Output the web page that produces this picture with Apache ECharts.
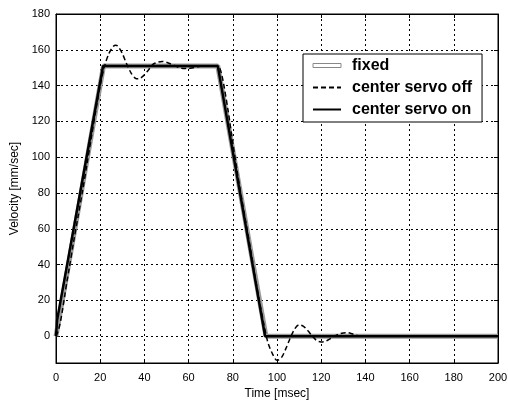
<!DOCTYPE html>
<html>
<head>
<meta charset="utf-8">
<script src="https://cdn.jsdelivr.net/npm/echarts@6/dist/echarts.min.js"></script>
<style>
  html, body { margin: 0; padding: 0; background: #fff; }
  #chart { width: 508px; height: 400px; }
</style>
</head>
<body>
<div id="chart"></div>
<script>
// Velocity profiles (time in msec, velocity in mm/sec)
const fixedT = [0, 21.5, 73.2, 95, 200];
const fixedV = [0, 151, 151, 0, 0];

const servoOnT = [0, 0.5, 21.3, 73.2, 94.6, 200];
const servoOnV = [0, 9, 151, 151, 0, 0];

const servoOffT = [0, 1, 2, 3, 4, 5, 6, 8, 10, 12, 14, 16, 18, 20, 22, 24, 26, 27, 28, 30, 32, 34, 36, 37, 38, 40, 42, 44, 46, 48, 50, 52, 54, 56, 58, 60, 62, 64, 66, 70, 73, 74, 75, 76, 78, 80, 82, 84, 86, 88, 90, 92, 94, 95, 96, 98, 100, 102, 104, 106, 108, 110, 112, 114, 116, 118, 120, 122, 124, 126, 128, 130, 132, 134, 136, 138, 200];
const servoOffV = [0, 3, 8, 15, 23, 31, 38, 53, 67, 81, 96, 111, 126, 140, 151, 158, 162, 162.5, 162, 158, 152, 147, 144, 143.8, 144, 146, 149, 152, 153, 153.5, 153, 152, 151, 150, 149.5, 149.5, 150, 150.5, 151, 151, 151, 150, 146, 140, 125, 108, 92, 77, 63, 49, 34, 20, 7, 1, -4, -10, -13.5, -12, -7, -1, 4, 6.3, 5.5, 3, 0, -2.5, -3.2, -2.8, -1.5, 0, 1.2, 1.8, 1.9, 1.3, 0.5, 0, 0];

const xTicks = [0, 20, 40, 60, 80, 100, 120, 140, 160, 180, 200];
const yTicks = [0, 20, 40, 60, 80, 100, 120, 140, 160, 180];

const seriesNames = ['fixed', 'center servo off', 'center servo on'];

const pairs = (t, v) => t.map((x, i) => [x, v[i]]);

const chart = echarts.init(document.getElementById('chart'), null, { renderer: 'canvas' });

const fontFamily = 'Liberation Sans, Arial, sans-serif';
const labelFont = { fontFamily: fontFamily, fontSize: 11, color: '#000' };
const gridLine = { show: true, lineStyle: { color: '#000', type: [2, 3], width: 1 } };
const frameLine = { show: true, onZero: false, lineStyle: { color: '#000', width: 1 } };
const innerTick = { show: true, inside: true, length: 4, lineStyle: { color: '#000' } };
const noMarker = { opacity: 0 };

chart.setOption({
  backgroundColor: '#fff',
  animation: false,
  grid: {
    left: 56, right: 10, top: 14, bottom: 37,
    outerBoundsMode: 'none',
    show: true, borderColor: '#000', borderWidth: 1
  },
  legend: {
    left: 303, top: 54,
    orient: 'vertical',
    backgroundColor: '#fff',
    borderColor: '#000', borderWidth: 1, borderRadius: 0,
    padding: [2, 10, 3, 9],
    itemGap: 3,
    itemWidth: 28, itemHeight: 14,
    textStyle: { fontFamily: fontFamily, fontWeight: 'bold', fontSize: 16, lineHeight: 19, color: '#000', padding: [0, 0, 0, 6] },
    data: [
      { name: seriesNames[0], icon: 'path://M0,0H28V4H0Z', itemStyle: { color: '#fff', borderColor: '#888', borderWidth: 1, opacity: 1 } },
      { name: seriesNames[1], itemStyle: noMarker },
      { name: seriesNames[2], itemStyle: noMarker }
    ]
  },
  xAxis: [
    {
      type: 'value', min: 0, max: 200, interval: 20,
      name: 'Time [msec]', nameLocation: 'middle', nameGap: 22,
      nameTextStyle: { fontFamily: fontFamily, fontSize: 12, color: '#000' },
      axisLine: frameLine,
      axisTick: innerTick,
      axisLabel: Object.assign({ margin: 9, customValues: xTicks }, labelFont),
      splitLine: gridLine
    },
    {
      type: 'value', min: 0, max: 200, interval: 20, position: 'top',
      axisLine: frameLine,
      axisTick: innerTick,
      axisLabel: { show: false },
      splitLine: { show: false }
    }
  ],
  yAxis: [
    {
      type: 'value', min: -15, max: 180,
      name: 'Velocity [mm/sec]', nameLocation: 'middle', nameGap: 35, nameRotate: 90,
      nameTextStyle: { fontFamily: fontFamily, fontSize: 12, color: '#000' },
      axisLine: frameLine,
      axisTick: Object.assign({ customValues: yTicks }, innerTick),
      axisLabel: Object.assign({ margin: 6, customValues: yTicks }, labelFont),
      splitLine: gridLine
    },
    {
      type: 'value', min: -15, max: 180, position: 'right',
      axisLine: frameLine,
      axisTick: Object.assign({ customValues: yTicks }, innerTick),
      axisLabel: { show: false },
      splitLine: { show: false }
    }
  ],
  series: [
    {
      name: seriesNames[0], type: 'line', symbol: 'none', z: 2,
      data: pairs(fixedT, fixedV),
      lineStyle: { color: '#9a9a9a', width: 5 },
      itemStyle: { color: '#9a9a9a' }
    },
    {
      name: seriesNames[2], type: 'line', symbol: 'none', z: 3,
      data: pairs(servoOnT, servoOnV),
      lineStyle: { color: '#000', width: 2.5 },
      itemStyle: { color: '#000' }
    },
    {
      name: seriesNames[1], type: 'line', symbol: 'none', z: 4, smooth: 0.3,
      data: pairs(servoOffT, servoOffV),
      lineStyle: { color: '#000', width: 1.5, type: [5, 3] },
      itemStyle: { color: '#000' }
    }
  ]
});
</script>
</body>
</html>
